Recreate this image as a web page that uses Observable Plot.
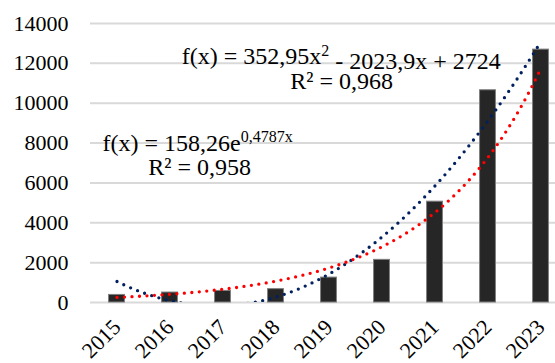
<!DOCTYPE html>
<html><head><meta charset="utf-8">
<script src="https://cdn.jsdelivr.net/npm/d3@7"></script>
<script src="https://cdn.jsdelivr.net/npm/@observablehq/plot@0.6"></script>
<style>body{margin:0;background:#fff}</style>
</head><body><div id="chart"></div>
<script>
const years = ["2015", "2016", "2017", "2018", "2019", "2020", "2021", "2022", "2023"];
const values = [380, 500, 580, 670, 1250, 2140, 5060, 10650, 12690];
const polyCoef = [352.95, -2023.9, 2724];
const expCoef = [158.26, 0.4787];
const yTicks = [0, 2000, 4000, 6000, 8000, 10000, 12000, 14000];
const polyParts = ["f(x) = 352,95x", "2", " - 2023,9x + 2724"];
const polyR2 = "R² = 0,968";
const expParts = ["f(x) = 158,26e", "0,4787x"];
const expR2 = "R² = 0,958";

const bars = years.map((year, k) => ({i: k + 1, year, value: values[k]}));
const xs = d3.range(1, 9.0001, 0.05);
const poly = xs.map(x => ({x, y: polyCoef[0] * x * x + polyCoef[1] * x + polyCoef[2]}));
const expo = xs.map(x => ({x, y: expCoef[0] * Math.exp(expCoef[1] * x)}));

const font = "'Liberation Serif', 'Times New Roman', serif";
const chart = Plot.plot({
  width: 555, height: 363,
  marginLeft: 90, marginRight: 0, marginTop: 23, marginBottom: 61,
  style: {fontFamily: font, fontSize: "22px", color: "#000", background: "#fff"},
  x: {domain: [0.5, 9.5], range: [90, 567], axis: null},
  y: {domain: [0, 14000], axis: null},
  marks: [
    Plot.gridY(yTicks, {stroke: "#d9d9d9", strokeOpacity: 1, strokeWidth: 2}),
    Plot.axisY(yTicks, {tickSize: 0, tickPadding: 22, fontSize: 22, label: null, tickFormat: d => String(d)}),
    Plot.text(bars, {x: "i", frameAnchor: "bottom", text: "year", rotate: -45, textAnchor: "end", lineAnchor: "middle", dy: 21, fontSize: 22, fill: "#000"}),
    Plot.rectY(bars, {x1: d => d.i - 0.15, x2: d => d.i + 0.15, y: "value", fill: "#262626", stroke: "#7f7f7f", strokeWidth: 1}),
    Plot.line(poly, {x: "x", y: "y", stroke: "#002060", strokeWidth: 3.3, strokeDasharray: "0 7.5", strokeLinecap: "round", clip: true}),
    Plot.line(expo, {x: "x", y: "y", stroke: "#ff0000", strokeWidth: 3.3, strokeDasharray: "0 7.5", strokeLinecap: "round", clip: true}),
    Plot.text([polyParts.join("")], {x: 5.23, y: 12330, text: d => d, fontSize: 24, fill: "#000"}),
    Plot.text([polyR2], {x: 5.24, y: 11080, text: d => d, fontSize: 24, fill: "#000"}),
    Plot.text([expParts.join("")], {x: 0.726, y: 7990, text: d => d, fontSize: 24, fill: "#000", textAnchor: "start"}),
    Plot.text([expR2], {x: 2.56, y: 6780, text: d => d, fontSize: 24, fill: "#000"})
  ]
});

function superscript(parts, sizes) {
  d3.select(chart).selectAll("text").filter(function() { return this.textContent === parts.join(""); })
    .each(function() {
      const t = d3.select(this);
      t.text(null);
      parts.forEach((p, k) => {
        const s = t.append("tspan").text(p);
        if (k === 1) s.attr("font-size", sizes).attr("dy", "-0.55em");
        if (k === 2) s.attr("dy", "0.55em");
      });
    });
}
superscript(polyParts, 16);
superscript(expParts, 16);
document.getElementById("chart").appendChild(chart);
</script>
</body></html>
